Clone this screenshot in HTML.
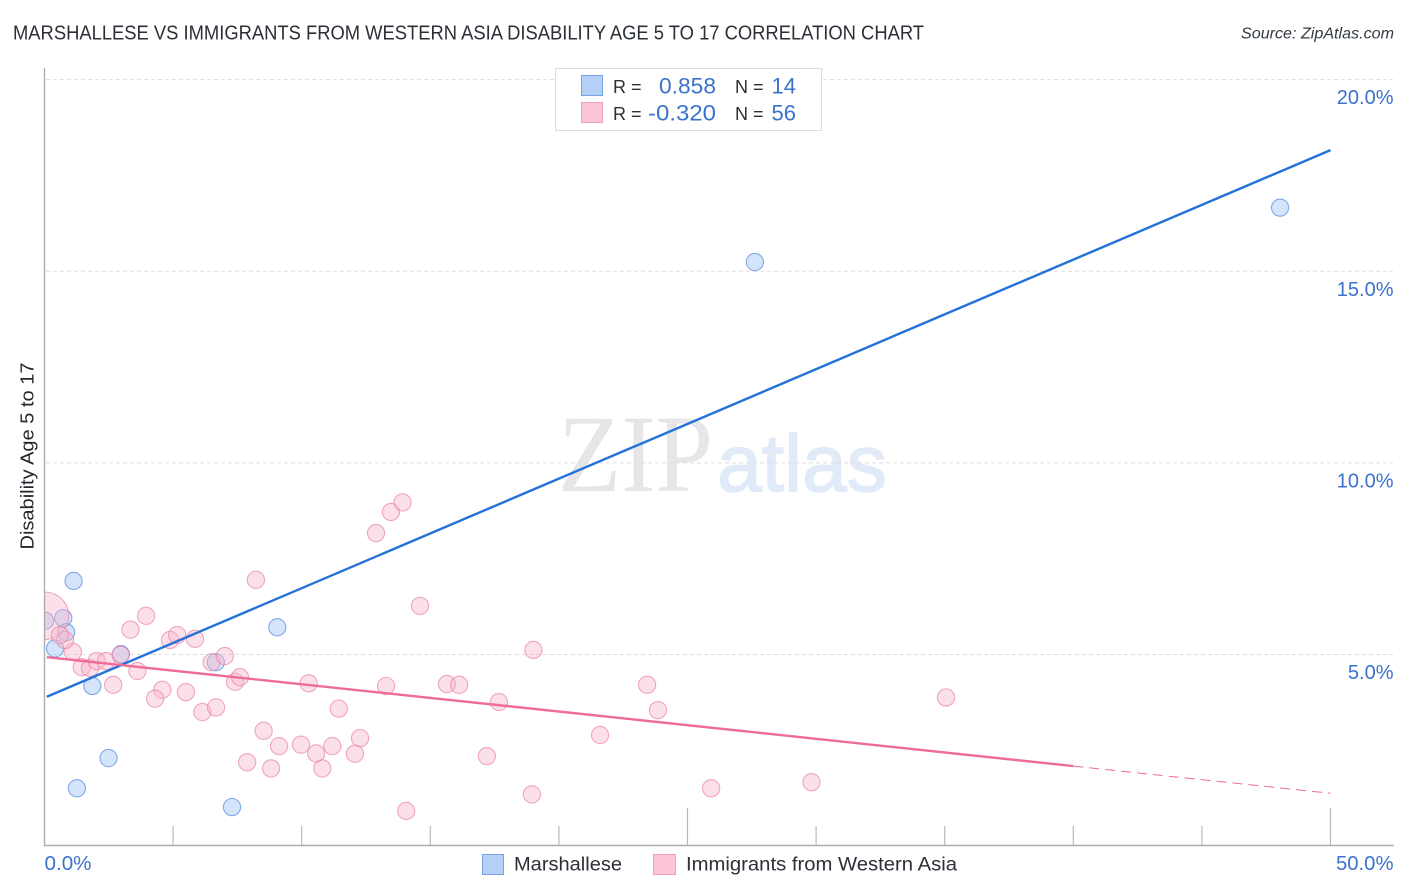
<!DOCTYPE html>
<html lang="en">
<head>
<meta charset="utf-8">
<title>Marshallese vs Immigrants from Western Asia Disability Age 5 to 17 Correlation Chart</title>
<style>
html,body{margin:0;padding:0;background:#fff;width:1406px;height:892px;overflow:hidden}
svg{display:block;font-family:"Liberation Sans",sans-serif}
</style>
</head>
<body>
<svg id="chart" width="1406" height="892" viewBox="0 0 1406 892" xmlns="http://www.w3.org/2000/svg">
  <defs>
    <clipPath id="plot-clip"><rect x="45" y="60" width="1349" height="786"></rect></clipPath>
  </defs>
  <rect x="0" y="0" width="1406" height="892" fill="#ffffff"></rect>

  <text x="13" y="39.5" font-size="20" fill="#2b2f36" textLength="911" lengthAdjust="spacingAndGlyphs">MARSHALLESE VS IMMIGRANTS FROM WESTERN ASIA DISABILITY AGE 5 TO 17 CORRELATION CHART</text>
  <text x="1241" y="38.5" font-size="15.5" font-style="italic" fill="#333a42" textLength="153" lengthAdjust="spacingAndGlyphs">Source: ZipAtlas.com</text>

  <g>
    <text x="558" y="491" font-family="'Liberation Serif',serif" font-size="110" fill="#e6e6e8" textLength="155" lengthAdjust="spacingAndGlyphs">ZIP</text>
    <text x="717" y="491" font-size="81" fill="#e0eaf8" stroke="#e0eaf8" stroke-width="1.5" textLength="170" lengthAdjust="spacingAndGlyphs">atlas</text>
  </g>

  <g id="grid"></g>
  <g id="blue-points" clip-path="url(#plot-clip)"></g>
  <g id="pink-points" clip-path="url(#plot-clip)"></g>
  <rect x="0" y="570" width="44" height="100" fill="#ffffff"></rect>
  <g id="axes"></g>
  <g id="trends"></g>
  <g id="y-labels"></g>
  <g id="x-labels"></g>

  <text transform="translate(33.5 456) rotate(-90)" font-size="18" fill="#23272e" text-anchor="middle" textLength="187" lengthAdjust="spacingAndGlyphs">Disability Age 5 to 17</text>

  <g>
    <rect x="555.5" y="68.5" width="266" height="62" fill="#ffffff" stroke="#dcdcdc" stroke-width="1"></rect>
    <rect x="581.5" y="75.5" width="21" height="20" fill="#b5d0f6" stroke="#76a3e4" stroke-width="1"></rect>
    <rect x="581.5" y="102.5" width="21" height="20" fill="#fcc6d7" stroke="#f0a0bb" stroke-width="1"></rect>
    <text x="613" y="93" font-size="18" fill="#2b2f36">R =</text>
    <text x="659" y="93.5" font-size="22" fill="#3b72cf" textLength="57" lengthAdjust="spacingAndGlyphs">0.858</text>
    <text x="735" y="93" font-size="18" fill="#2b2f36">N =</text>
    <text x="796" y="93.5" font-size="22" fill="#3b72cf" text-anchor="end">14</text>
    <text x="613" y="120" font-size="18" fill="#2b2f36">R =</text>
    <text x="648" y="120.5" font-size="22" fill="#3b72cf" textLength="68" lengthAdjust="spacingAndGlyphs">-0.320</text>
    <text x="735" y="120" font-size="18" fill="#2b2f36">N =</text>
    <text x="796" y="120.5" font-size="22" fill="#3b72cf" text-anchor="end">56</text>
  </g>

  <g>
    <rect x="482.5" y="854.5" width="21" height="20" fill="#b5d0f6" stroke="#76a3e4" stroke-width="1"></rect>
    <text x="514" y="870.5" font-size="19.5" fill="#2b2f36" textLength="108" lengthAdjust="spacingAndGlyphs">Marshallese</text>
    <rect x="653.5" y="854.5" width="22" height="20" fill="#fcc6d7" stroke="#f0a0bb" stroke-width="1"></rect>
    <text x="686" y="870.5" font-size="19.5" fill="#2b2f36" textLength="271" lengthAdjust="spacingAndGlyphs">Immigrants from Western Asia</text>
  </g>
</svg>
<script>
const yGridValues = [5, 10, 15, 20];
const yTickLabels = ["5.0%", "10.0%", "15.0%", "20.0%"];
const xTickValues = [5, 10, 15, 20, 25, 30, 35, 40, 45, 50];
const xMajorTicks = [25, 50];
const xLabelValues = [0, 50];
const xTickLabels = ["0.0%", "50.0%"];

const marshalleseX = [0.02, 0.73, 0.84, 0.41, 1.13, 1.86, 2.97, 2.49, 1.26, 6.66, 7.29, 9.05, 27.62, 48.04];
const marshalleseY = [5.88, 5.95, 5.58, 5.16, 6.92, 4.18, 5.01, 2.30, 1.51, 4.80, 1.02, 5.71, 15.24, 16.66];

const immigrantsX = [0.02, 3.95, 3.34, 1.10, 0.80, 1.45, 1.77, 2.03, 2.39, 2.96, 3.61, 2.67, 0.60, 4.88, 5.16, 5.85, 6.50, 7.01, 7.41, 7.60, 10.27, 11.44, 4.58, 4.30, 5.50, 6.14, 6.67, 8.52, 9.12, 9.97, 10.56, 11.19, 12.27, 12.07, 7.88, 8.81, 10.80, 13.28, 15.65, 16.12, 12.89, 13.47, 13.92, 14.60, 17.67, 17.20, 19.01, 18.95, 14.06, 21.60, 23.43, 23.85, 25.92, 29.82, 35.05, 8.22];
const immigrantsY = [6.01, 6.01, 5.65, 5.07, 5.38, 4.67, 4.65, 4.83, 4.83, 4.99, 4.57, 4.21, 5.51, 5.38, 5.51, 5.41, 4.80, 4.96, 4.29, 4.41, 4.25, 3.59, 4.08, 3.85, 4.02, 3.50, 3.62, 3.01, 2.61, 2.65, 2.42, 2.61, 2.82, 2.41, 2.19, 2.03, 2.03, 4.18, 4.23, 4.21, 8.17, 8.72, 8.97, 6.27, 3.76, 2.35, 5.12, 1.35, 0.92, 2.90, 4.21, 3.55, 1.51, 1.67, 3.88, 6.95];
const immigrantsWeight = [7.6, 1, 1, 1, 1, 1, 1, 1, 1, 1, 1, 1, 1, 1, 1, 1, 1, 1, 1, 1, 1, 1, 1, 1, 1, 1, 1, 1, 1, 1, 1, 1, 1, 1, 1, 1, 1, 1, 1, 1, 1, 1, 1, 1, 1, 1, 1, 1, 1, 1, 1, 1, 1, 1, 1, 1];

const marshalleseTrendX = [0.09, 50];
const marshalleseTrendY = [3.90, 18.16];
const immigrantsTrendX = [0.09, 40];
const immigrantsTrendY = [4.93, 2.09];
const immigrantsProjectionX = [40, 50];
const immigrantsProjectionY = [2.09, 1.38];

const NS = "http://www.w3.org/2000/svg";
const xScale = function (v) { return 44.5 + 25.72 * v; };
const yScale = function (v) { return 846.2 - 38.33 * v; };
const BASE_R = 8.6;

function make(tag, parentId, attrs) {
  const el = document.createElementNS(NS, tag);
  Object.keys(attrs).forEach(function (k) { el.setAttribute(k, attrs[k]); });
  document.getElementById(parentId).appendChild(el);
  return el;
}

yGridValues.forEach(function (v, i) {
  const line = make("line", "grid", { x1: 46, x2: 1393, y1: yScale(v), y2: yScale(v), stroke: "#dddddd", "stroke-width": 1, "stroke-dasharray": "4 3" });
  
  
  const label = make("text", "y-labels", { x: 1393.5, y: yScale(v) + 24.5, "font-size": 20, fill: "#3b72cf", "text-anchor": "end" });
  label.textContent = yTickLabels[i];
  
  
});

const yAxis = make("line", "axes", { x1: 44.5, x2: 44.5, y1: 68, y2: 846, stroke: "#adadad", "stroke-width": 1.4 });


const xAxis = make("line", "axes", { x1: 44, x2: 1394, y1: 845.5, y2: 845.5, stroke: "#adadad", "stroke-width": 1.4 });



xTickValues.forEach(function (v) {
  const top = xMajorTicks.indexOf(v) >= 0 ? 808 : 826;
  const tick = make("line", "axes", { x1: xScale(v), x2: xScale(v), y1: top, y2: 845, stroke: "#b8b8b8", "stroke-width": 1.2 });
  
  
});

xLabelValues.forEach(function (v, i) {
  const label = make("text", "x-labels", { x: i === 0 ? xScale(v) : 1336, y: 870, "font-size": 20, fill: "#3b72cf", textLength: i === 0 ? 47 : 57.5, lengthAdjust: "spacingAndGlyphs" });
  label.textContent = xTickLabels[i];
  
  
});

marshalleseX.forEach(function (v, i) {
  const dot = make("circle", "blue-points", { cx: xScale(v), cy: yScale(marshalleseY[i]), r: BASE_R, fill: "#a9c9f5", "fill-opacity": 0.5, stroke: "#5c92de", "stroke-opacity": 0.75, "stroke-width": 1.1 });
  
  
});

immigrantsX.forEach(function (v, i) {
  const dot = make("circle", "pink-points", { cx: xScale(v), cy: yScale(immigrantsY[i]), r: BASE_R * Math.sqrt(immigrantsWeight[i]), fill: "#f8b4ca", "fill-opacity": 0.42, stroke: "#ea85a8", "stroke-opacity": 0.7, "stroke-width": 1.1 });
  
  
});

const blueTrend = make("line", "trends", { x1: xScale(marshalleseTrendX[0]), y1: yScale(marshalleseTrendY[0]), x2: xScale(marshalleseTrendX[1]), y2: yScale(marshalleseTrendY[1]), stroke: "#2272d9", "stroke-width": 2.4 });



const pinkTrend = make("line", "trends", { x1: xScale(immigrantsTrendX[0]), y1: yScale(immigrantsTrendY[0]), x2: xScale(immigrantsTrendX[1]), y2: yScale(immigrantsTrendY[1]), stroke: "#ee6b9a", "stroke-width": 2.4 });



const pinkProjection = make("line", "trends", { x1: xScale(immigrantsProjectionX[0]), y1: yScale(immigrantsProjectionY[0]), x2: xScale(immigrantsProjectionX[1]), y2: yScale(immigrantsProjectionY[1]), stroke: "#ee6b9a", "stroke-width": 1, "stroke-dasharray": "10 6" });


</script>
</body>
</html>
